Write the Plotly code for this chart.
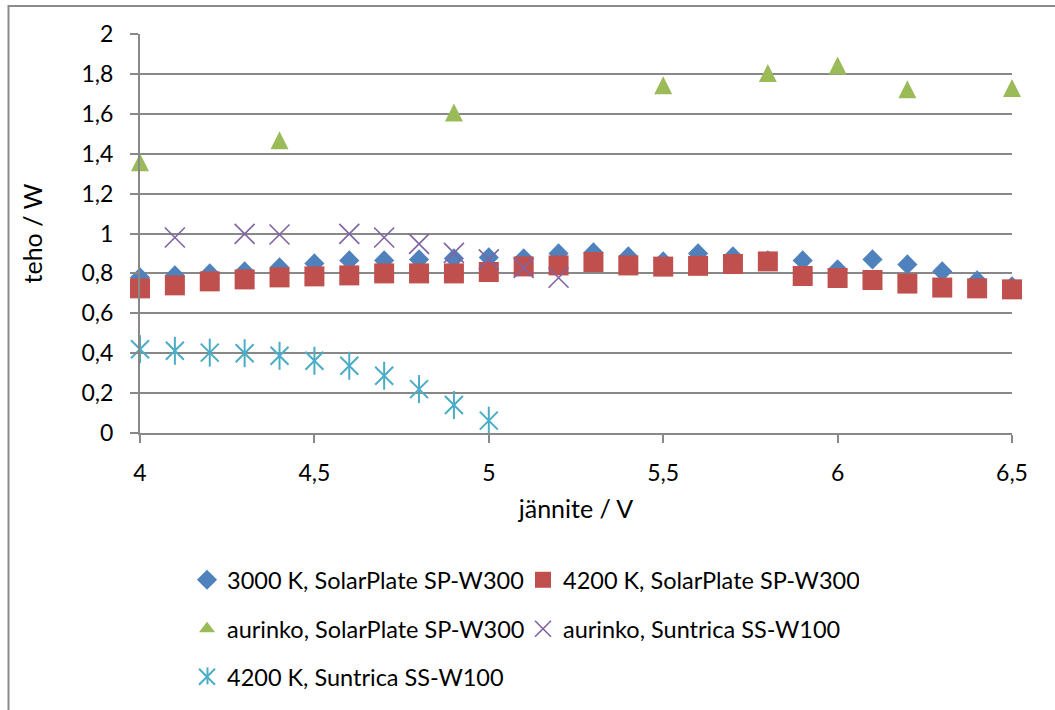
import plotly.graph_objects as go

# ---- data ----
x_full = [4.0, 4.1, 4.2, 4.3, 4.4, 4.5, 4.6, 4.7, 4.8, 4.9, 5.0, 5.1, 5.2,
          5.3, 5.4, 5.5, 5.6, 5.7, 5.8, 5.9, 6.0, 6.1, 6.2, 6.3, 6.4, 6.5]
p_3000_sp = [0.78, 0.79, 0.80, 0.81, 0.83, 0.85, 0.865, 0.865, 0.87, 0.875, 0.88, 0.875, 0.90,
             0.905, 0.885, 0.86, 0.90, 0.885, 0.865, 0.865, 0.82, 0.87, 0.845, 0.81, 0.765, 0.735]
p_4200_sp = [0.725, 0.74, 0.76, 0.77, 0.78, 0.785, 0.79, 0.80, 0.80, 0.80, 0.807, 0.835, 0.84,
             0.857, 0.84, 0.834, 0.838, 0.847, 0.86, 0.787, 0.777, 0.767, 0.749, 0.729, 0.725, 0.72]
x_sun_sp = [4.0, 4.4, 4.9, 5.5, 5.8, 6.0, 6.2, 6.5]
p_sun_sp = [1.357, 1.468, 1.606, 1.743, 1.804, 1.842, 1.723, 1.729]
x_sun_ss = [4.1, 4.3, 4.4, 4.6, 4.7, 4.8, 4.9, 5.0, 5.1, 5.2]
p_sun_ss = [0.98, 0.998, 0.995, 0.998, 0.98, 0.948, 0.903, 0.87, 0.828, 0.778]
x_4200_ss = [4.0, 4.1, 4.2, 4.3, 4.4, 4.5, 4.6, 4.7, 4.8, 4.9, 5.0]
p_4200_ss = [0.42, 0.412, 0.403, 0.40, 0.387, 0.362, 0.337, 0.287, 0.22, 0.14, 0.062]

names = ["3000 K, SolarPlate SP-W300", "4200 K, SolarPlate SP-W300",
         "aurinko, SolarPlate SP-W300", "aurinko, Suntrica SS-W100",
         "4200 K, Suntrica SS-W100"]
x_ticks = [4, 4.5, 5, 5.5, 6, 6.5]
y_ticks = [0, 0.2, 0.4, 0.6, 0.8, 1, 1.2, 1.4, 1.6, 1.8, 2]

BLUE, RED, GREEN, PURPLE, CYAN = "#4F81BD", "#C0504D", "#9BBB59", "#8064A2", "#4BACC6"
FONT = "Lato, 'Open Sans', sans-serif"
GRID = "#888888"
TRI = 18

fig = go.Figure()
fig.add_trace(go.Scatter(x=x_full, y=p_3000_sp, mode="markers", name=names[0], legend="legend",
                         marker=dict(symbol="diamond", size=15.5, color=BLUE), cliponaxis=False))
fig.add_trace(go.Scatter(x=x_full, y=p_4200_sp, mode="markers", name=names[1], legend="legend",
                         marker=dict(symbol="square", size=20, color=RED), cliponaxis=False))
# green series: drawn with a centred tall-ish triangle; legend entry uses a plain triangle
fig.add_trace(go.Scatter(x=x_sun_sp, y=p_sun_sp, mode="markers", name=names[2], legend="legend2",
                         legendgroup="sunsp", showlegend=False,
                         marker=dict(symbol="arrow-down", angle=180, size=TRI, standoff=TRI / 2,
                                     color=GREEN), cliponaxis=False))
fig.add_trace(go.Scatter(x=[None], y=[None], mode="markers", name=names[2], legend="legend2",
                         legendgroup="sunsp",
                         marker=dict(symbol="triangle-up", size=14, color=GREEN)))
fig.add_trace(go.Scatter(x=x_sun_ss, y=p_sun_ss, mode="markers", name=names[3], legend="legend2",
                         marker=dict(symbol="x-thin", size=20, color=PURPLE,
                                     line=dict(color=PURPLE, width=1.6)), cliponaxis=False))
fig.add_trace(go.Scatter(x=x_4200_ss, y=p_4200_ss, mode="markers", name=names[4], legend="legend3",
                         legendgroup="ss4200",
                         marker=dict(symbol="x-thin", size=18, color=CYAN,
                                     line=dict(color=CYAN, width=2)), cliponaxis=False))
fig.add_trace(go.Scatter(x=x_4200_ss, y=p_4200_ss, mode="markers", name=names[4], legend="legend3",
                         legendgroup="ss4200", showlegend=False,
                         marker=dict(symbol="line-ns", size=20, color=CYAN,
                                     line=dict(color=CYAN, width=2)), cliponaxis=False))

L, R, T, B = 140, 43, 34, 276
pw, ph = 1055 - L - R, 710 - T - B

def px_x(px):
    return (px - L) / pw

def px_y(py):
    return (710 - B - py) / ph

legend_common = dict(orientation="h", font=dict(family=FONT, size=23.5, color="#000000"),
                     bgcolor="rgba(0,0,0,0)", entrywidth=291, entrywidthmode="pixels",
                     xanchor="left", yanchor="middle", itemclick=False)

fig.update_layout(
    width=1055, height=710,
    margin=dict(l=L, r=R, t=T, b=B),
    paper_bgcolor="white", plot_bgcolor="white",
    separators=", ",
    font=dict(family=FONT, size=23, color="#000000"),
    xaxis=dict(range=[4, 6.5], tickvals=x_ticks, ticks="outside", ticklen=8, tickwidth=2,
               tickcolor=GRID, showline=True, linecolor=GRID, linewidth=2, showgrid=False,
               zeroline=False, ticklabelstandoff=10, tickfont=dict(size=23),
               title=dict(text="jännite / V", standoff=16, font=dict(size=25))),
    yaxis=dict(range=[0, 2], tickvals=y_ticks, ticks="outside", ticklen=8, tickwidth=2,
               tickcolor=GRID, showline=True, linecolor=GRID, linewidth=2, showgrid=True,
               gridcolor=GRID, gridwidth=2, zeroline=False, ticklabelstandoff=12,
               tickfont=dict(size=23),
               title=dict(text="teho / W", standoff=32, font=dict(size=25))),
    legend=dict(x=px_x(187), y=px_y(580), **legend_common),
    legend2=dict(x=px_x(187), y=px_y(629), **legend_common),
    legend3=dict(x=px_x(187), y=px_y(677), **legend_common),
    shapes=[dict(type="rect", xref="paper", yref="paper",
                 x0=px_x(8.5), x1=px_x(1200), y0=px_y(900), y1=px_y(6),
                 line=dict(color="#8C8C8C", width=2), fillcolor="rgba(0,0,0,0)", layer="below"),
            # vertical stroke completing the asterisk icon in the third legend row
            dict(type="line", xref="paper", yref="paper",
                 x0=px_x(207.5), x1=px_x(207.5), y0=px_y(669), y1=px_y(686),
                 line=dict(color=CYAN, width=2))],
    showlegend=True,
)

fig.write_html("out.html")
